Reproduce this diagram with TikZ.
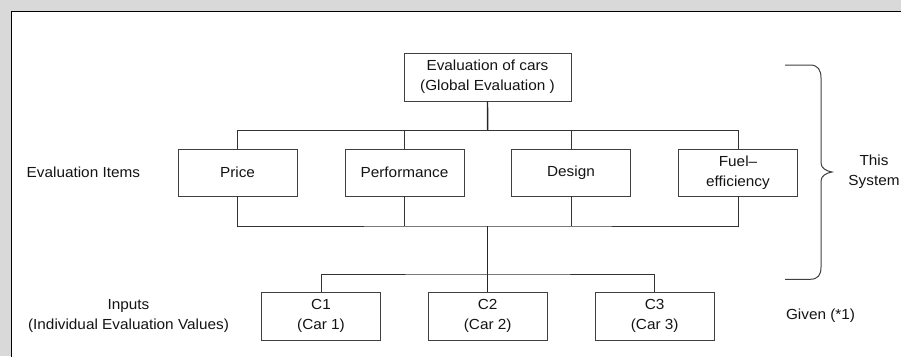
\documentclass[tikz,border=0pt]{standalone}
\usepackage{fontspec}
\setmainfont{Liberation Sans}[FakeStretch=1.05]
\begin{document}
\begin{tikzpicture}[x=1pt,y=-1pt,
  every node/.style={font=\fontsize{14.6}{20}\selectfont, text=black!92},
  box/.style={draw=black!75, line width=0.9pt, minimum width=119pt, minimum height=47pt, inner sep=0pt, align=center, fill=white},
  conn/.style={draw=black!80, line width=0.9pt},
  thick conn/.style={draw=black!85, line width=1.4pt},
  lbl/.style={align=center, inner sep=0pt}]
\useasboundingbox (0,0) rectangle (901,356);
\fill[black!15] (0,0) rectangle (901,356);
\filldraw[fill=white, draw=black, line width=1.6pt] (11.5,11.5) rectangle (910,365);

% top
\node[box, minimum width=167pt, minimum height=48pt] (top) at (487.5,77) {Evaluation of cars\\(Global Evaluation )};
% level 2
\node[box] (price) at (237.5,172.5) {Price};
\node[box] (perf) at (404.5,172.5) {Performance};
\node[box] (design) at (571,172.5) {Design};
\node[box] (fuel) at (738,172.5) {Fuel–\\efficiency};
% inputs
\node[box, minimum height=48pt] (c1) at (321,316) {C1\\(Car 1)};
\node[box, minimum height=48pt] (c2) at (487.7,316) {C2\\(Car 2)};
\node[box, minimum height=48pt] (c3) at (654.7,316) {C3\\(Car 3)};

\coordinate (bus1) at (487.7,130.7);
\coordinate (bus2) at (487.7,226);
\coordinate (bus3) at (487.7,274);

\draw[thick conn] (top.south) -- (bus1);
\draw[conn] (price.north) |- (bus1) -| (fuel.north);
\draw[conn] (perf.north) -- (perf.north |- bus1);
\draw[conn] (design.north) -- (design.north |- bus1);

\draw[conn] (price.south) |- (bus2) -| (fuel.south);
\draw[conn] (perf.south) -- (perf.south |- bus2);
\draw[conn] (design.south) -- (design.south |- bus2);
\draw[thick conn] (bus2) -- (c2.north);
\draw[conn] (c1.north) |- (bus3) -| (c3.north);

% labels
\node[lbl, anchor=west] (items) at (26.5,172) {Evaluation Items};
\node[lbl] (inputs) at (128.5,316) {Inputs\\(Individual Evaluation Values)};
\node[lbl] (sys) at (874,172) {This\\System};
\node[lbl] (given) at (820.5,316) {Given (*1)};

% brace
\draw[draw=black!75, line width=1pt] (785,65) -- (810,65) .. controls (818,65) and (821,70) .. (821,78) -- (821,163)
  .. controls (821,168) and (826,171) .. (832,172) .. controls (826,173) and (821,176) .. (821,181)
  -- (821,267) .. controls (821,275) and (818,279.3) .. (810,279.3) -- (785,279.3);
\end{tikzpicture}
\end{document}
